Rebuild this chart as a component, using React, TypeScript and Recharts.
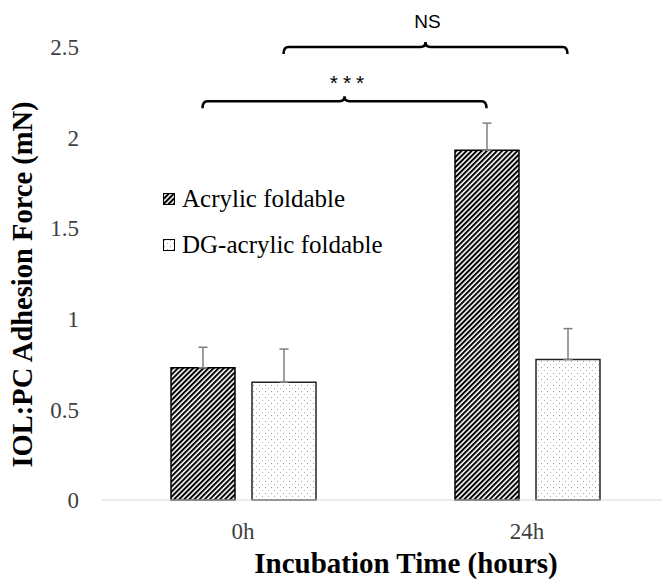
import React from "react";
import { BarChart, Bar, XAxis, YAxis, ErrorBar, Legend } from "recharts";

// values (mN)
const categories = ["0h", "24h"];
const acrylic = [0.73, 1.93];
const acrylicErr = [0.113, 0.15];
const dgAcrylic = [0.65, 0.776];
const dgAcrylicErr = [0.183, 0.17];
const yTicks = [0, 0.5, 1, 1.5, 2, 2.5];

// significance brackets: [from series/category, to series/category, level (mN), text]
const brackets = [
  { from: ["acrylic", 0], to: ["acrylic", 1], level: 2.2, text: "***" },
  { from: ["dg", 0], to: ["dg", 1], level: 2.5, text: "NS" },
] as const;

const data = categories.map((c, i) => ({
  name: c,
  acrylic: acrylic[i],
  acrylicErr: [0, acrylicErr[i]],
  dg: dgAcrylic[i],
  dgErr: [0, dgAcrylicErr[i]],
}));

const W = 680;
const H = 582;
const M = { top: 47, right: 11, left: 0, bottom: 0 };
const Y_W = 101;
const X_H = 82;
const BAR = 64;
const GAP = 17;
const Y_MAX = 2.5;

const plotLeft = M.left + Y_W;
const plotW = W - M.right - plotLeft;
const plotTop = M.top;
const plotH = H - X_H - plotTop;
const band = plotW / categories.length;
const yPx = (v: number) => plotTop + plotH * (1 - v / Y_MAX);
const barCenter = (series: string, i: number) =>
  plotLeft + band * (i + 0.5) + (series === "acrylic" ? -1 : 1) * (GAP / 2 + BAR / 2);

const SERIF = "'Liberation Serif', 'Times New Roman', serif";

const Brackets = () => (
  <svg width={W} height={H} style={{ position: "absolute", left: 0, top: 0, pointerEvents: "none" }}>
    {brackets.map((b) => {
      const l = barCenter(b.from[0], b.from[1]);
      const r = barCenter(b.to[0], b.to[1]);
      const c = (l + r) / 2;
      const y = yPx(b.level);
      const d = `M${l},${y + 7} Q${l},${y} ${l + 5},${y} L${c - 5},${y} Q${c},${y} ${c},${y - 5} Q${c},${y} ${c + 5},${y} L${r - 5},${y} Q${r},${y} ${r},${y + 7}`;
      const ns = b.text === "NS";
      return (
        <g key={b.text}>
          <path d={d} fill="none" stroke="#000" strokeWidth={2.5} />
          <text
            x={ns ? c + 2 : c + 5}
            y={ns ? y - 19 : y - 11}
            textAnchor="middle"
            fontFamily="'Liberation Sans', Arial, sans-serif"
            fontSize={ns ? 19 : 21}
            letterSpacing={ns ? 0 : 5}
            fill="#000"
          >
            {b.text}
          </text>
        </g>
      );
    })}
  </svg>
);

const legendItems = [
  { key: "acrylic", label: "Acrylic foldable", fill: "url(#hatch)" },
  { key: "dg", label: "DG-acrylic foldable", fill: "url(#dots)" },
];

const renderLegend = () => (
  <div style={{ fontFamily: SERIF, fontSize: 25, color: "#000", whiteSpace: "nowrap" }}>
    {legendItems.map((it) => (
      <div key={it.key} style={{ display: "flex", alignItems: "center", height: 46, lineHeight: "46px" }}>
        <svg width={12} height={12} style={{ marginRight: 7 }}>
          <rect x={0.5} y={0.5} width={11} height={11} fill={it.fill} stroke="#000" strokeWidth={1} />
        </svg>
        <span>{it.label}</span>
      </div>
    ))}
  </div>
);

export default function App() {
  return (
    <div style={{ position: "fixed", left: 0, top: 0, width: 662, height: 582, overflow: "hidden", background: "#fff" }}>
      <div style={{ position: "relative", width: W, height: H }}>
        <BarChart width={W} height={H} data={data} margin={M} barGap={GAP} barSize={BAR}>
          <defs>
            <pattern id="hatch" patternUnits="userSpaceOnUse" width={3.6} height={3.6} patternTransform="rotate(45)">
              <rect width={3.6} height={3.6} fill="#fff" />
              <line x1={1} y1={0} x2={1} y2={3.6} stroke="#000" strokeWidth={2} />
            </pattern>
            <pattern id="dots" patternUnits="userSpaceOnUse" width={6} height={6}>
              <rect width={6} height={6} fill="#fff" />
              <rect x={1} y={1} width={1} height={1} fill="#9a9a9a" />
              <rect x={4} y={4} width={1} height={1} fill="#b5b5b5" />
            </pattern>
          </defs>
          <XAxis
            dataKey="name"
            height={X_H}
            axisLine={{ stroke: "#d9d9d9", strokeWidth: 1 }}
            tickLine={false}
            tickMargin={17}
            tick={{ fill: "#404040", fontSize: 23, fontFamily: SERIF }}
            label={{
              content: ({ viewBox }: any) => (
                <text
                  x={viewBox.x + viewBox.width / 2 + 21}
                  y={573}
                  textAnchor="middle"
                  fontFamily={SERIF}
                  fontWeight="bold"
                  fontSize={29}
                  fill="#000"
                >
                  Incubation Time (hours)
                </text>
              ),
            }}
          />
          <YAxis
            width={Y_W}
            domain={[0, Y_MAX]}
            ticks={yTicks}
            axisLine={false}
            tickLine={false}
            tickMargin={16}
            tick={{ fill: "#404040", fontSize: 23, fontFamily: SERIF }}
            label={{
              content: ({ viewBox }: any) => {
                const cx = 22;
                const cy = viewBox.y + viewBox.height / 2 + 11;
                return (
                  <text
                    x={cx}
                    y={cy}
                    transform={`rotate(-90, ${cx}, ${cy})`}
                    textAnchor="middle"
                    dominantBaseline="central"
                    fontFamily={SERIF}
                    fontWeight="bold"
                    fontSize={28.5}
                    fill="#000"
                  >
                    IOL:PC Adhesion Force (mN)
                  </text>
                );
              },
            }}
          />
          <Legend
            content={renderLegend}
            layout="vertical"
            verticalAlign="top"
            wrapperStyle={{ position: "absolute", left: 163, top: 176, width: "auto", height: 0, overflow: "visible" }}
          />
          <Bar dataKey="acrylic" name="Acrylic foldable" fill="url(#hatch)" stroke="#000" strokeWidth={1.5} isAnimationActive={false}>
            <ErrorBar dataKey="acrylicErr" width={4.5} stroke="#7f7f7f" strokeWidth={1.5} direction="y" isAnimationActive={false} />
          </Bar>
          <Bar dataKey="dg" name="DG-acrylic foldable" fill="url(#dots)" stroke="#222" strokeWidth={1.5} isAnimationActive={false}>
            <ErrorBar dataKey="dgErr" width={4.5} stroke="#7f7f7f" strokeWidth={1.5} direction="y" isAnimationActive={false} />
          </Bar>
        </BarChart>
        <Brackets />
      </div>
    </div>
  );
}
